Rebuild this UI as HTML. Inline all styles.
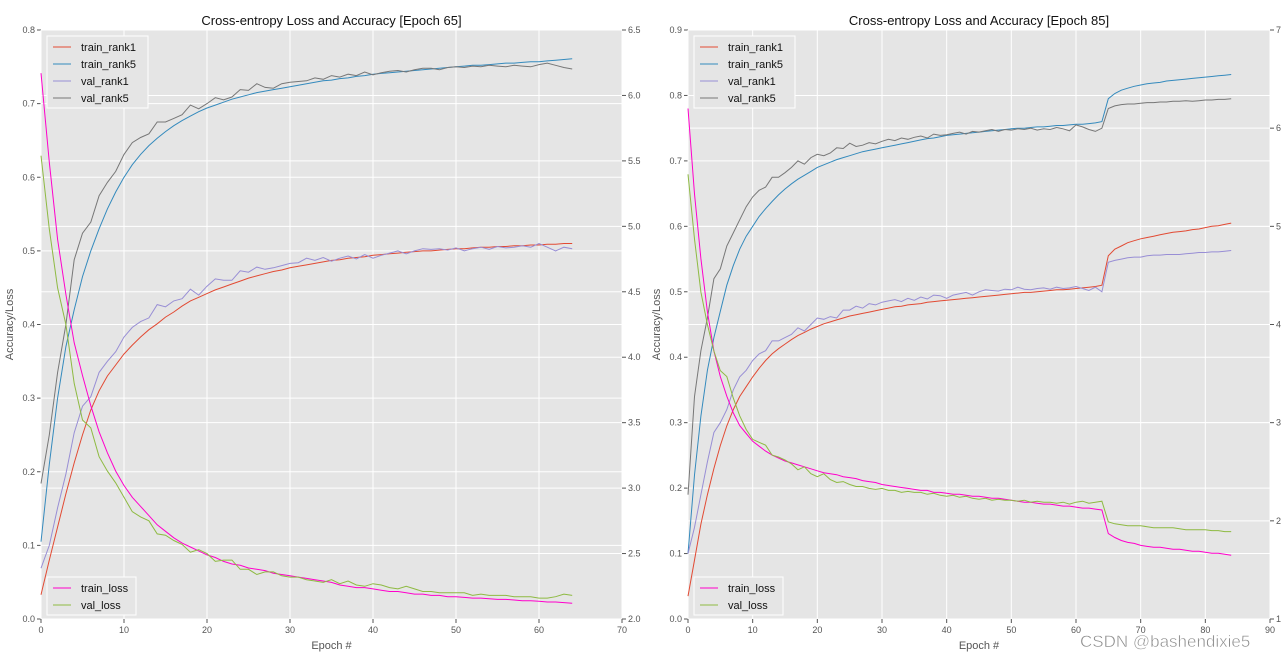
<!DOCTYPE html>
<html><head><meta charset="utf-8"><style>
body{margin:0;background:#fff;}
svg{display:block;font-family:"Liberation Sans",sans-serif;}
</style></head><body>
<svg id="c" width="1286" height="657"></svg>
<script>
// ---- Left chart data (epochs 0..64) ----
const L_train_rank1=[.033,.08,.125,.17,.212,.25,.284,.31,.33,.345,.36,.372,.383,.393,.401,.41,.417,.425,.432,.437,.442,.447,.451,.455,.459,.463,.466,.469,.472,.474,.477,.479,.481,.483,.485,.487,.488,.49,.491,.492,.494,.495,.496,.497,.498,.499,.5,.5,.501,.502,.503,.503,.504,.505,.505,.506,.506,.507,.507,.508,.508,.509,.509,.51,.51];
const L_train_rank5=[.105,.21,.3,.37,.42,.465,.5,.53,.557,.58,.6,.617,.631,.643,.653,.662,.67,.677,.683,.689,.694,.698,.702,.706,.709,.712,.715,.717,.719,.721,.723,.725,.727,.729,.731,.732,.734,.735,.737,.738,.74,.741,.742,.743,.744,.745,.746,.747,.748,.749,.75,.751,.752,.752,.753,.754,.755,.755,.756,.757,.757,.758,.759,.76,.761];
const L_val_rank1=[.069,.1,.151,.197,.253,.289,.302,.335,.35,.363,.383,.396,.404,.409,.427,.424,.432,.435,.448,.44,.452,.462,.46,.46,.473,.471,.478,.475,.477,.48,.483,.484,.49,.487,.491,.486,.49,.493,.489,.495,.49,.494,.497,.5,.496,.5,.503,.502,.503,.501,.504,.5,.503,.505,.502,.506,.504,.505,.507,.505,.51,.505,.5,.505,.503];
const L_val_rank5=[.184,.25,.335,.4,.488,.524,.539,.575,.593,.608,.631,.647,.654,.659,.675,.675,.68,.685,.698,.693,.7,.708,.705,.709,.719,.718,.727,.722,.721,.727,.729,.73,.731,.735,.733,.738,.736,.74,.738,.743,.739,.742,.744,.745,.743,.746,.748,.748,.746,.749,.75,.749,.751,.75,.752,.751,.75,.752,.751,.75,.753,.755,.752,.749,.747];
const L_train_loss=[6.17,5.49,4.9,4.48,4.11,3.86,3.63,3.43,3.27,3.13,3.02,2.93,2.86,2.79,2.72,2.67,2.62,2.58,2.55,2.52,2.49,2.47,2.44,2.42,2.41,2.39,2.38,2.37,2.35,2.34,2.33,2.32,2.31,2.30,2.29,2.28,2.26,2.25,2.24,2.24,2.23,2.22,2.21,2.21,2.20,2.19,2.19,2.18,2.18,2.17,2.17,2.165,2.16,2.16,2.155,2.15,2.15,2.145,2.14,2.14,2.135,2.13,2.13,2.125,2.12];
const L_val_loss=[5.54,4.98,4.53,4.25,3.8,3.52,3.46,3.24,3.13,3.04,2.93,2.82,2.78,2.75,2.65,2.64,2.6,2.57,2.51,2.53,2.5,2.44,2.45,2.45,2.38,2.38,2.34,2.36,2.36,2.33,2.32,2.32,2.3,2.29,2.28,2.3,2.27,2.29,2.26,2.25,2.27,2.26,2.24,2.23,2.25,2.23,2.21,2.21,2.2,2.2,2.2,2.2,2.18,2.19,2.18,2.18,2.18,2.17,2.17,2.17,2.16,2.16,2.17,2.19,2.18];
// ---- Right chart data (epochs 0..84) ----
const R_train_rank1=[.035,.09,.145,.19,.23,.265,.295,.32,.34,.355,.37,.383,.395,.405,.413,.42,.427,.433,.438,.443,.447,.451,.454,.457,.46,.463,.465,.467,.469,.471,.473,.475,.477,.478,.48,.481,.482,.484,.485,.486,.487,.488,.489,.49,.491,.492,.493,.494,.495,.496,.497,.498,.499,.499,.5,.501,.502,.503,.503,.504,.505,.506,.507,.508,.51,.555,.565,.57,.575,.578,.581,.583,.585,.587,.589,.591,.592,.593,.595,.596,.598,.6,.601,.603,.605];
const R_train_rank5=[.10,.22,.31,.38,.43,.47,.51,.54,.565,.585,.60,.615,.627,.638,.648,.657,.665,.672,.678,.684,.69,.694,.698,.702,.705,.708,.711,.714,.716,.718,.72,.722,.724,.726,.728,.73,.732,.734,.735,.737,.739,.74,.741,.742,.743,.744,.745,.746,.747,.748,.749,.75,.75,.751,.752,.752,.753,.754,.754,.755,.756,.756,.757,.758,.76,.795,.803,.808,.811,.814,.816,.818,.819,.82,.822,.823,.824,.825,.826,.827,.828,.829,.83,.831,.832];
const R_val_rank1=[.1,.14,.19,.24,.285,.3,.32,.35,.37,.38,.395,.405,.41,.425,.425,.43,.435,.445,.44,.45,.46,.458,.462,.46,.472,.472,.478,.475,.482,.48,.484,.486,.488,.485,.49,.487,.492,.489,.495,.494,.49,.495,.497,.499,.495,.5,.503,.502,.501,.504,.503,.507,.504,.503,.505,.506,.504,.507,.505,.506,.508,.505,.502,.507,.5,.545,.548,.55,.552,.553,.553,.555,.556,.556,.557,.557,.557,.558,.559,.56,.56,.561,.561,.562,.563];
const R_val_rank5=[.19,.34,.41,.46,.52,.535,.57,.59,.61,.63,.645,.655,.66,.675,.675,.682,.69,.7,.695,.705,.71,.708,.712,.72,.719,.727,.722,.724,.728,.726,.73,.733,.731,.735,.733,.736,.738,.735,.741,.739,.74,.742,.744,.741,.745,.744,.746,.748,.745,.748,.747,.749,.748,.75,.747,.749,.748,.751,.749,.746,.755,.752,.748,.745,.75,.78,.784,.786,.787,.787,.788,.789,.789,.79,.79,.791,.791,.792,.791,.792,.793,.793,.794,.794,.795];
const R_train_loss=[6.2,5.33,4.67,4.13,3.73,3.47,3.27,3.1,2.97,2.89,2.81,2.76,2.71,2.67,2.64,2.61,2.59,2.57,2.55,2.53,2.51,2.49,2.48,2.47,2.45,2.44,2.43,2.41,2.4,2.39,2.37,2.36,2.35,2.34,2.33,2.32,2.31,2.31,2.29,2.29,2.28,2.27,2.27,2.26,2.25,2.25,2.24,2.23,2.23,2.22,2.21,2.2,2.19,2.19,2.18,2.17,2.17,2.16,2.15,2.15,2.14,2.13,2.13,2.12,2.11,1.87,1.83,1.8,1.78,1.77,1.75,1.74,1.73,1.73,1.72,1.71,1.71,1.7,1.69,1.69,1.68,1.67,1.67,1.66,1.65];
const R_val_loss=[5.53,4.87,4.33,4,3.73,3.53,3.47,3.25,3.07,2.93,2.83,2.8,2.77,2.67,2.65,2.62,2.58,2.52,2.55,2.48,2.45,2.48,2.42,2.39,2.4,2.37,2.35,2.35,2.33,2.32,2.33,2.31,2.31,2.29,2.3,2.29,2.29,2.27,2.28,2.26,2.25,2.26,2.24,2.25,2.23,2.22,2.23,2.21,2.22,2.21,2.21,2.2,2.21,2.19,2.2,2.19,2.19,2.18,2.19,2.17,2.19,2.2,2.18,2.19,2.2,1.99,1.97,1.96,1.95,1.95,1.95,1.94,1.93,1.93,1.93,1.93,1.92,1.91,1.91,1.91,1.91,1.9,1.9,1.89,1.89];
const L_xticks=[0,10,20,30,40,50,60,70];
const L_yticks=[0,.1,.2,.3,.4,.5,.6,.7,.8];
const L_y2ticks=[2,2.5,3,3.5,4,4.5,5,5.5,6,6.5];
const R_xticks=[0,10,20,30,40,50,60,70,80,90];
const R_yticks=[0,.1,.2,.3,.4,.5,.6,.7,.8,.9];
const R_y2ticks=[1,2,3,4,5,6,7];

const NS='http://www.w3.org/2000/svg';
const svg=document.getElementById('c');
function mk(tag,attrs,parent,text){const e=document.createElementNS(NS,tag);for(const k in attrs)e.setAttribute(k,attrs[k]);if(text!==undefined)e.textContent=text;(parent||svg).appendChild(e);return e;}
const COL={train_rank1:'#E24A33',train_rank5:'#348ABD',val_rank1:'#988ED5',val_rank5:'#777777',train_loss:'#FF00CC',val_loss:'#8EBA42'};

function chart(cfg){
  const g=mk('g',{});
  
  
  const X0=cfg.x0,X1=cfg.x1,Y0=30,Y1=619;
  const xs=v=>X0+(v-cfg.xmin)/(cfg.xmax-cfg.xmin)*(X1-X0);
  const ys=v=>Y1-(v-cfg.ymin)/(cfg.ymax-cfg.ymin)*(Y1-Y0);
  const y2=v=>Y1-(v-cfg.y2min)/(cfg.y2max-cfg.y2min)*(Y1-Y0);
  const bg=mk('rect',{x:X0,y:Y0,width:X1-X0,height:Y1-Y0,fill:'#E5E5E5'},g);
  
  
  cfg.y2ticks.forEach(t=>{mk('line',{x1:X0,x2:X1,y1:y2(t),y2:y2(t),stroke:'#fff','stroke-width':1},g);});
  cfg.yticks.forEach(t=>{mk('line',{x1:X0,x2:X1,y1:ys(t),y2:ys(t),stroke:'#fff','stroke-width':1},g);
    const tl=mk('text',{x:X0-6,y:ys(t)+3,'text-anchor':'end','font-size':9,fill:'#555'},g,t.toFixed(1));
    
    
    mk('line',{x1:X0-4,x2:X0,y1:ys(t),y2:ys(t),stroke:'#555'},g);});
  cfg.xticks.forEach(t=>{mk('line',{x1:xs(t),x2:xs(t),y1:Y0,y2:Y1,stroke:'#fff','stroke-width':1},g);
    const tl=mk('text',{x:xs(t),y:Y1+14,'text-anchor':'middle','font-size':9,fill:'#555'},g,String(t));
    
    
    mk('line',{x1:xs(t),x2:xs(t),y1:Y1,y2:Y1+4,stroke:'#555'},g);});
  cfg.y2ticks.forEach(t=>{
    const tl=mk('text',{x:X1+6,y:y2(t)+3,'text-anchor':'start','font-size':9,fill:'#555'},g,cfg.y2fmt(t));
    
    
    mk('line',{x1:X1,x2:X1+4,y1:y2(t),y2:y2(t),stroke:'#555'},g);});
  const ti=mk('text',{x:(X0+X1)/2,y:25,'text-anchor':'middle','font-size':13,fill:'#111'},g,cfg.title);
  
  
  const xl=mk('text',{x:(X0+X1)/2,y:649,'text-anchor':'middle','font-size':11,fill:'#555'},g,'Epoch #');
  
  
  const yl=mk('text',{x:0,y:0,'text-anchor':'middle','font-size':11,fill:'#555',transform:`translate(${X0-28},${(Y0+Y1)/2}) rotate(-90)`},g,'Accuracy/Loss');
  
  
  const line=(arr,sc,key)=>{const p=mk('polyline',{points:arr.map((v,i)=>xs(i).toFixed(1)+','+sc(v).toFixed(1)).join(' '),fill:'none',stroke:COL[key],'stroke-width':1},g);
    
    };
  line(cfg.d.train_rank1,ys,'train_rank1');line(cfg.d.train_rank5,ys,'train_rank5');
  line(cfg.d.val_rank1,ys,'val_rank1');line(cfg.d.val_rank5,ys,'val_rank5');
  line(cfg.d.train_loss,y2,'train_loss');line(cfg.d.val_loss,y2,'val_loss');
  const leg=(x,y,keys,w,nm)=>{const lg=mk('g',{},g);
    
    
    mk('rect',{x:x,y:y,width:w,height:keys.length*17+4,fill:'#E5E5E5',stroke:'#fff','stroke-width':1},lg);
    keys.forEach((k,i)=>{const yy=y+11+i*17;
      mk('line',{x1:x+6,x2:x+24,y1:yy,y2:yy,stroke:COL[k],'stroke-width':1},lg);
      const t=mk('text',{x:x+34,y:yy+4,'font-size':11,fill:'#111'},lg,k);
      
      });};
  leg(X0+6,36,['train_rank1','train_rank5','val_rank1','val_rank5'],101,'accuracy-legend');
  leg(X0+6,577,['train_loss','val_loss'],89,'loss-legend');
}
chart({name:'left-chart',x0:41,x1:622,xmin:0,xmax:70,ymin:0,ymax:.8,y2min:2,y2max:6.5,
  xticks:L_xticks,yticks:L_yticks,y2ticks:L_y2ticks,y2fmt:t=>t.toFixed(1),title:'Cross-entropy Loss and Accuracy [Epoch 65]',
  d:{train_rank1:L_train_rank1,train_rank5:L_train_rank5,val_rank1:L_val_rank1,val_rank5:L_val_rank5,train_loss:L_train_loss,val_loss:L_val_loss}});
chart({name:'right-chart',x0:688,x1:1270,xmin:0,xmax:90,ymin:0,ymax:.9,y2min:1,y2max:7,
  xticks:R_xticks,yticks:R_yticks,y2ticks:R_y2ticks,y2fmt:t=>String(t),title:'Cross-entropy Loss and Accuracy [Epoch 85]',
  d:{train_rank1:R_train_rank1,train_rank5:R_train_rank5,val_rank1:R_val_rank1,val_rank5:R_val_rank5,train_loss:R_train_loss,val_loss:R_val_loss}});
const wm=mk('text',{x:1080,y:647,'font-size':17,fill:'#8a8a8a',stroke:'#fff','stroke-width':0.5},svg,'CSDN @bashendixie5');


</script>
</body></html>
